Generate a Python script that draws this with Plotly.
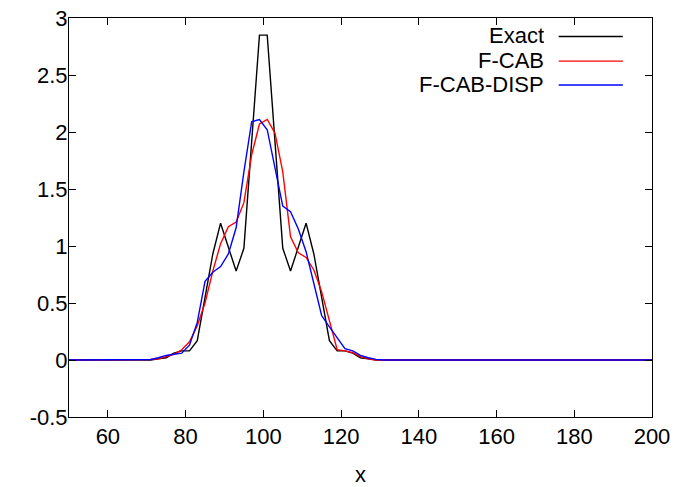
import plotly.graph_objects as go

# grid points (odd x values); outside 71..129 all series are zero
x_vals = list(range(49, 203, 2))

x_core = [71, 73, 75, 77, 79, 81, 83, 85, 87, 89, 91, 93, 95, 97, 99,
          101, 103, 105, 107, 109, 111, 113, 115, 117, 119, 121, 123, 125, 127, 129]

exact_core = [0.0, 0.01, 0.02, 0.06, 0.08, 0.08, 0.17, 0.55, 0.93, 1.2, 1.0, 0.78, 0.98, 1.9, 2.85,
              2.85, 1.9, 0.98, 0.78, 1.0, 1.2, 0.93, 0.55, 0.17, 0.08, 0.08, 0.06, 0.02, 0.01, 0.0]

fcab_core = [0.005, 0.01, 0.03, 0.05, 0.09, 0.16, 0.3, 0.5, 0.78, 1.02, 1.17, 1.21, 1.38, 1.8, 2.07,
             2.11, 1.99, 1.65, 1.08, 0.94, 0.9, 0.79, 0.6, 0.34, 0.09, 0.08, 0.065, 0.03, 0.01, 0.0]

fcabdisp_core = [0.005, 0.02, 0.04, 0.05, 0.06, 0.13, 0.33, 0.69, 0.77, 0.82, 0.93, 1.16, 1.65, 2.09, 2.11,
                 2.02, 1.67, 1.35, 1.30, 1.15, 0.95, 0.68, 0.39, 0.29, 0.19, 0.10, 0.08, 0.04, 0.02, 0.005]

def full(core):
    vals = []
    for xv in x_vals:
        if xv in x_core:
            vals.append(core[x_core.index(xv)])
        else:
            vals.append(0.0)
    return vals

series_names = ["Exact", "F-CAB", "F-CAB-DISP"]
series_colors = ["#000000", "#ff0000", "#0000ff"]
series_data = [full(exact_core), full(fcab_core), full(fcabdisp_core)]

x_ticks = [60, 80, 100, 120, 140, 160, 180, 200]
y_ticks = [-0.5, 0, 0.5, 1, 1.5, 2, 2.5, 3]
y_tick_text = ["-0.5", "0", "0.5", "1", "1.5", "2", "2.5", "3"]

fig = go.Figure()
for name, color, ys in zip(series_names, series_colors, series_data):
    fig.add_trace(go.Scatter(x=x_vals, y=ys, mode="lines", name=name,
                             line=dict(color=color, width=1.4), showlegend=False))

FONT = "Liberation Sans, Arial, sans-serif"
TICK_SIZE = 22
LEG_SIZE = 22

# gnuplot-style legend: right-aligned text with line sample to the right
legend_rows = [0.9536, 0.892, 0.832]
for yy, name, color in zip(legend_rows, series_names, series_colors):
    fig.add_annotation(xref="paper", yref="paper", x=0.816, y=yy + 0.003, text=name,
                       showarrow=False, xanchor="right", yanchor="middle",
                       borderpad=0, height=22,
                       font=dict(family=FONT, size=LEG_SIZE, color="black"))
    fig.add_shape(type="line", xref="paper", yref="paper", x0=0.840, x1=0.950,
                  y0=yy, y1=yy, line=dict(color=color, width=1.4))

axis_common = dict(showgrid=False, zeroline=False, showline=True, linecolor="black",
                   linewidth=1, mirror="ticks", ticks="inside", ticklen=7,
                   tickcolor="black", tickwidth=1, ticklabeloverflow="allow",
                   automargin=False,
                   tickfont=dict(family=FONT, size=TICK_SIZE, color="black"))

# page has an 8px body margin, so figure is 8px smaller on each side
fig.update_layout(
    width=670, height=479,
    margin=dict(l=61, r=26, t=10, b=70),
    paper_bgcolor="white", plot_bgcolor="white",
    xaxis=dict(range=[50, 200], tickvals=x_ticks,
               title=dict(text="x", font=dict(family=FONT, size=TICK_SIZE, color="black"), standoff=20),
               **axis_common),
    yaxis=dict(range=[-0.5, 3], tickvals=y_ticks, ticktext=y_tick_text,
               ticklabelstandoff=-4, **axis_common),
)

fig.write_html("out.html")
